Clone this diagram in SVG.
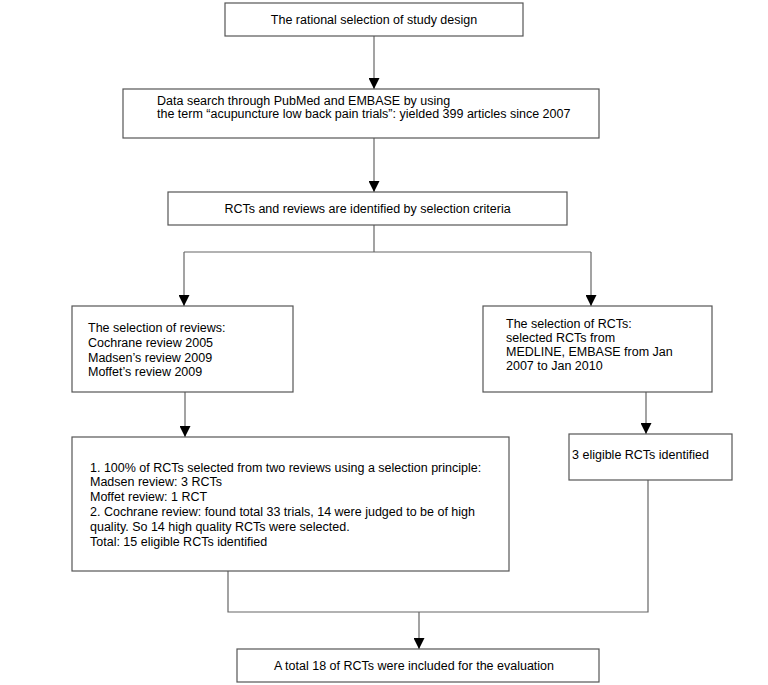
<svg xmlns="http://www.w3.org/2000/svg" width="768" height="685" viewBox="0 0 768 685">
<defs>
<marker id="arr" markerUnits="userSpaceOnUse" markerWidth="11" markerHeight="11" refX="11" refY="5.5" orient="auto" viewBox="0 0 11 11">
<path d="M0,0 L11,5.5 L0,11 z" fill="#000"/>
</marker>
<style>
.box{fill:#fff;stroke:#555;stroke-width:1.2}
.t{font-family:"Liberation Sans",Arial,sans-serif;font-size:12.5px;fill:#000}
.c{fill:none;stroke:#666;stroke-width:1.2}
.m{marker-end:url(#arr)}
</style>
</defs>
<rect width="768" height="685" fill="#fff"/>
<g id="connectors">
<path class="c m" d="M374,36 V89"/>
<path class="c m" d="M374,138 V192"/>
<path class="c" d="M374,225 V252 M184,252 H591"/>
<path class="c m" d="M184,252 V306"/>
<path class="c m" d="M591,252 V306"/>
<path class="c m" d="M185,392 V437"/>
<path class="c m" d="M646,392 V434"/>
<path class="c" d="M228,571 V612 H648 V480"/>
<path class="c m" d="M419,612 V649"/>
</g>
<g id="n1">
<rect class="box" x="225" y="3" width="298" height="33"/>
<text class="t" x="374" y="23.5" text-anchor="middle">The rational selection of study design</text>
</g>
<g id="n2">
<rect class="box" x="123" y="89" width="476" height="49"/>
<text class="t" x="157" y="104.5">Data search through PubMed and EMBASE by using</text>
<text class="t" x="157" y="118">the term “acupuncture low back pain trials”: yielded 399 articles since 2007</text>
</g>
<g id="n3">
<rect class="box" x="168" y="192" width="399" height="33"/>
<text class="t" x="367.5" y="212.5" text-anchor="middle">RCTs and reviews are identified by selection criteria</text>
</g>
<g id="n4">
<rect class="box" x="72" y="306" width="221" height="86"/>
<text class="t" x="88" y="332">The selection of reviews:</text>
<text class="t" x="88" y="347">Cochrane review 2005</text>
<text class="t" x="88" y="361.5">Madsen’s review 2009</text>
<text class="t" x="88" y="376">Moffet’s review 2009</text>
</g>
<g id="n5">
<rect class="box" x="483" y="306" width="229" height="86"/>
<text class="t" x="506" y="327.5">The selection of RCTs:</text>
<text class="t" x="506" y="341.5">selected RCTs from</text>
<text class="t" x="506" y="355.5">MEDLINE, EMBASE from Jan</text>
<text class="t" x="506" y="369.5">2007 to Jan 2010</text>
</g>
<g id="n6">
<rect class="box" x="72" y="437" width="437" height="134"/>
<text class="t" x="90" y="471.5">1. 100% of RCTs selected from two reviews using a selection principle:</text>
<text class="t" x="90" y="486">Madsen review: 3 RCTs</text>
<text class="t" x="90" y="501">Moffet review: 1 RCT</text>
<text class="t" x="90" y="516">2. Cochrane review: found total 33 trials, 14 were judged to be of high</text>
<text class="t" x="90" y="531">quality. So 14 high quality RCTs were selected.</text>
<text class="t" x="90" y="546">Total: 15 eligible RCTs identified</text>
</g>
<g id="n7">
<rect class="box" x="569" y="434" width="163" height="46"/>
<text class="t" x="572" y="458.5">3 eligible RCTs identified</text>
</g>
<g id="n8">
<rect class="box" x="237" y="649" width="362" height="33"/>
<text class="t" x="414" y="669.5" text-anchor="middle">A total 18 of RCTs were included for the evaluation</text>
</g>
</svg>
